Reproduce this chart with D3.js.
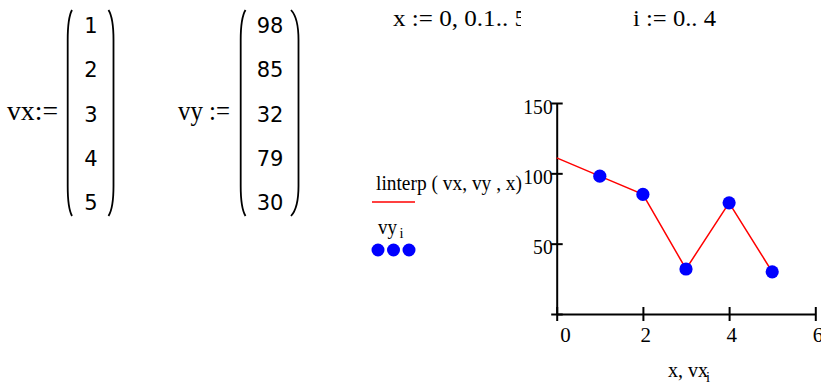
<!DOCTYPE html>
<html>
<head>
<meta charset="utf-8">
<script src="https://cdn.jsdelivr.net/npm/d3@7"></script>
<style>
  body { margin: 0; background: #fff; }
  svg { display: block; }
  text { font-family: "Liberation Serif", "Times New Roman", serif; fill: #000; }
</style>
</head>
<body>
<svg id="chart" width="821" height="383"></svg>
<script>
// worksheet values
var vx = [1, 2, 3, 4, 5];
var vy = [98, 85, 32, 79, 30];
// linterp(vx, vy, x) for x := 0, 0.1 .. 5  (breakpoints, x = 0 is extrapolated)
var lineX = [0, 1, 2, 3, 4, 5];
var lineY = [111, 98, 85, 32, 79, 30];
var xTicks = [0, 2, 4, 6];
var yTicks = [0, 50, 100, 150];

var svg = d3.select('#chart');
svg.append('rect').attr('width', 821).attr('height', 383).attr('fill', '#fff');

// text helper: stretched text to match the wide mathcad glyphs
function txt(g, str, x, y, size, len, anchor, family) {
  var t = g.append('text')
    .attr('x', x).attr('y', y)
    .attr('font-size', size)
    .attr('text-anchor', anchor || 'start')
    .text(str);
  if (len) t.attr('textLength', len).attr('lengthAdjust', 'spacingAndGlyphs');
  if (family) t.style('font-family', family);
  return t;
}

function paren(g, xLine, xTip, y0, y1) {
  var p = d3.path();
  p.moveTo(xTip, y0);
  p.quadraticCurveTo(xLine, y0 + 8, xLine, y0 + 30);
  p.lineTo(xLine, y1 - 30);
  p.quadraticCurveTo(xLine, y1 - 8, xTip, y1);
  g.append('path').attr('d', p.toString())
    .attr('fill', 'none').attr('stroke', '#000').attr('stroke-width', 1.8);
}

// ---- matrices ----
var row = d3.scalePoint().domain(d3.range(vx.length)).range([33.3, 210]);
var mat = svg.append('g');

txt(mat, 'vx:=', 7, 120, 27, 51);
paren(mat, 67.7, 72, 10, 216);
paren(mat, 113.5, 108.5, 10, 216);
mat.selectAll('.vx').data(vx).enter().append('text')
  .attr('x', 91).attr('y', function(d, i) { return row(i); })
  .attr('text-anchor', 'middle').attr('font-size', 21)
  .style('font-family', '"DejaVu Sans", sans-serif')
  .text(function(d) { return d; });

txt(mat, 'vy :=', 178, 120, 27, 52);
paren(mat, 240.7, 245.5, 10, 216);
paren(mat, 298.5, 291, 10, 216);
mat.selectAll('.vy').data(vy).enter().append('text')
  .attr('x', 270).attr('y', function(d, i) { return row(i); })
  .attr('text-anchor', 'middle').attr('font-size', 21)
  .style('font-family', '"DejaVu Sans", sans-serif')
  .text(function(d) { return d; });

// ---- range definitions ----
svg.append('clipPath').attr('id', 'rng').append('rect')
  .attr('x', 380).attr('y', 0).attr('width', 141).attr('height', 40);
var rg = svg.append('g').attr('clip-path', 'url(#rng)');
txt(rg, 'x := 0, 0.1.. 5', 393, 26, 23, 134);
txt(svg, 'i := 0.. 4', 633, 26, 23, 83);

// ---- plot ----
var x = d3.scaleLinear().domain([0, 6]).range([556.7, 815.3]);
var y = d3.scaleLinear().domain([0, 150]).range([314, 103]);

var yAxis = svg.append('g').attr('transform', 'translate(' + x(0) + ',0)')
  .call(d3.axisLeft(y).tickValues(yTicks).tickSize(0).tickFormat(''));
var xAxis = svg.append('g').attr('transform', 'translate(0,' + y(0) + ')')
  .call(d3.axisBottom(x).tickValues(xTicks).tickSize(0).tickFormat(''));

[yAxis, xAxis].forEach(function(a) {
  a.select('.domain').attr('stroke', '#000').attr('stroke-width', 2);
});
yAxis.selectAll('.tick line').attr('x1', -5.5).attr('x2', 6)
  .attr('stroke', '#000').attr('stroke-width', 2);
xAxis.selectAll('.tick line').attr('y1', -7).attr('y2', 7)
  .attr('stroke', '#000').attr('stroke-width', 2);

// tick labels (mathcad places them just past the tick)
svg.append('g').selectAll('text').data(yTicks.filter(function(d) { return d > 0; }))
  .enter().append('text')
  .attr('x', x(0) - 4).attr('y', function(d) { return y(d) + 10.5; })
  .attr('text-anchor', 'end').attr('font-size', 20)
  .attr('textLength', function(d) { return String(d).length * 9.8; })
  .attr('lengthAdjust', 'spacingAndGlyphs')
  .text(function(d) { return d; });

svg.append('g').selectAll('text').data(xTicks).enter().append('text')
  .attr('x', function(d) { return x(d) + (d === 0 ? 3.5 : -2.5); })
  .attr('y', 341.7)
  .attr('font-size', 20).attr('textLength', 10.5)
  .attr('lengthAdjust', 'spacingAndGlyphs')
  .text(function(d) { return d; });

// red linterp trace
var line = d3.line().x(function(d, i) { return x(lineX[i]); }).y(function(d) { return y(d); });
svg.append('path').datum(lineY).attr('d', line)
  .attr('fill', 'none').attr('stroke', '#ff0000').attr('stroke-width', 1.5);

// blue points
svg.append('g').selectAll('circle').data(vy).enter().append('circle')
  .attr('cx', function(d, i) { return x(vx[i]); })
  .attr('cy', function(d) { return y(d); })
  .attr('r', 6.6).attr('fill', '#0000ff');

// axis label
txt(svg, 'x, vx', 668, 376.7, 20, 40);
txt(svg, 'i', 706, 381.5, 15, 4);

// ---- legend ----
txt(svg, 'linterp ( vx, vy , x)', 376, 190, 20.5, 146);
svg.append('line').attr('x1', 372).attr('x2', 415).attr('y1', 202).attr('y2', 202)
  .attr('stroke', '#ff0000').attr('stroke-width', 1.5);
txt(svg, 'vy', 378, 234, 21, 19);
txt(svg, 'i', 399.5, 238, 15, 4);
svg.append('g').selectAll('circle').data([378, 393.5, 409]).enter().append('circle')
  .attr('cx', function(d) { return d; }).attr('cy', 250)
  .attr('r', 6.5).attr('fill', '#0000ff');
</script>
</body>
</html>
